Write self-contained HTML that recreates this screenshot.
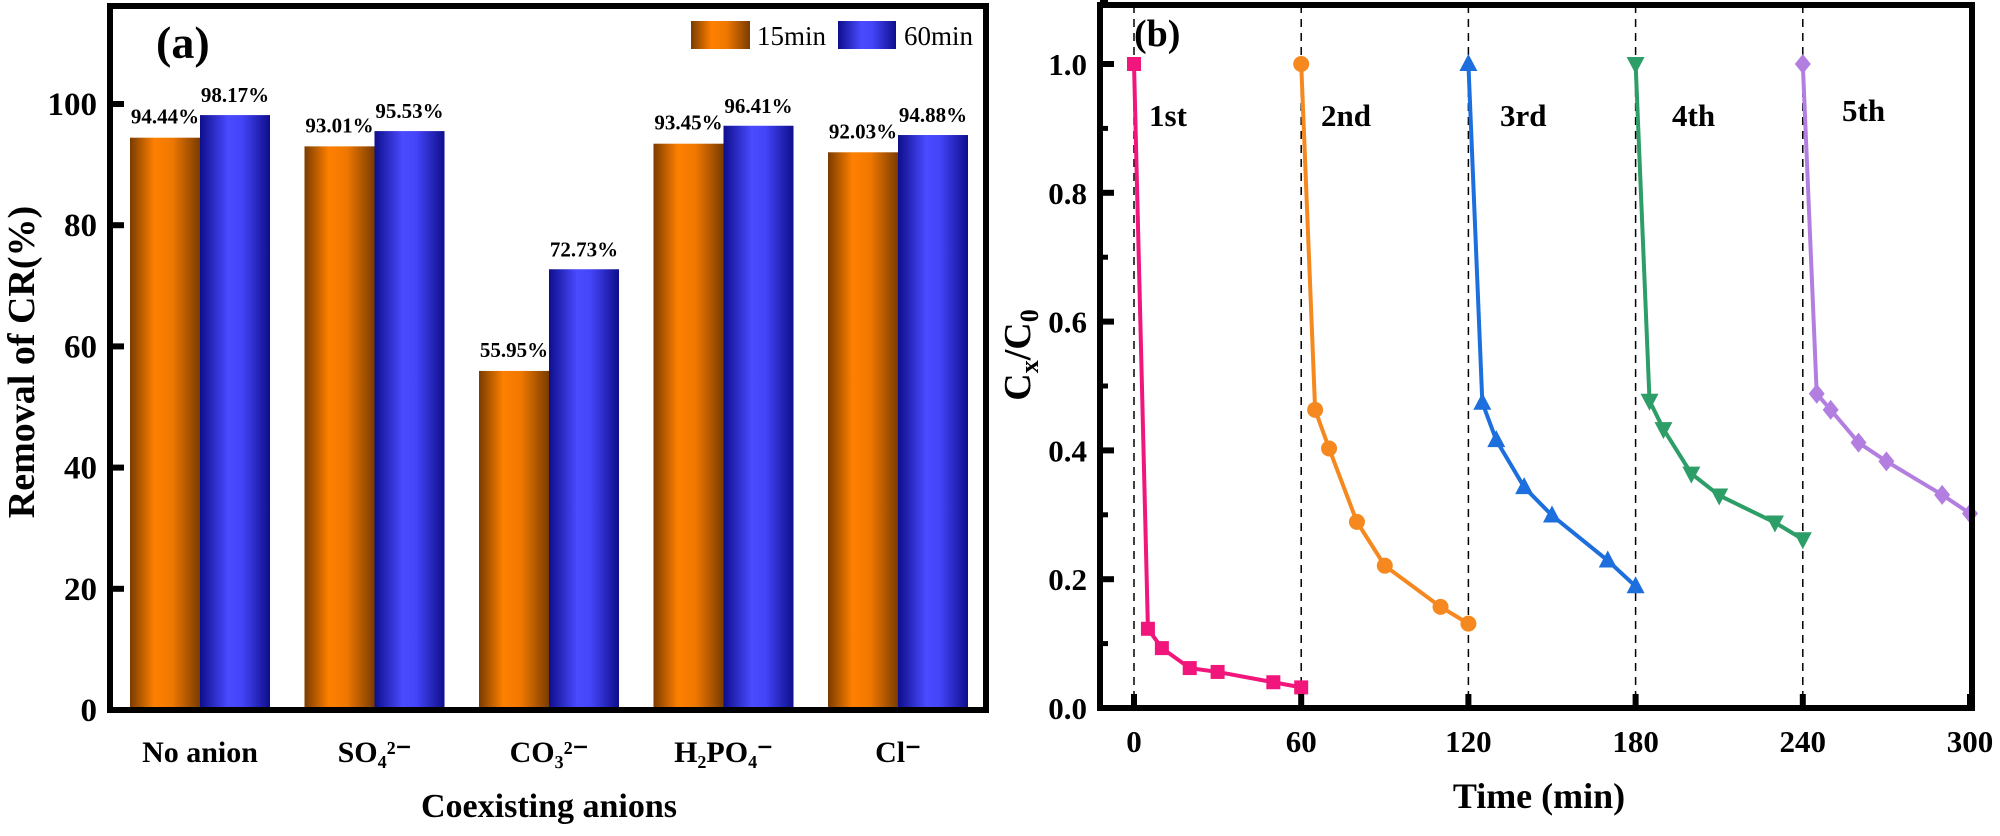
<!DOCTYPE html>
<html><head><meta charset="utf-8"><style>
html,body{margin:0;padding:0;background:#fff}
svg{display:block;font-family:"Liberation Serif",serif;font-weight:bold}
</style></head><body>
<svg id="fig" width="2000" height="836" viewBox="0 0 2000 836" xmlns="http://www.w3.org/2000/svg">
<defs>
<linearGradient id="gO" x1="0" x2="1" y1="0" y2="0"><stop offset="0" stop-color="#7a3c00"/><stop offset="0.35" stop-color="#ff8000"/><stop offset="0.6" stop-color="#f07800"/><stop offset="1" stop-color="#7a3c00"/></linearGradient>
<linearGradient id="gB" x1="0" x2="1" y1="0" y2="0"><stop offset="0" stop-color="#0e0e8c"/><stop offset="0.4" stop-color="#4a4aff"/><stop offset="0.6" stop-color="#4444f8"/><stop offset="1" stop-color="#0e0e8c"/></linearGradient>
</defs>
<g id="pa"></g>
<g id="pb"></g>
</svg>
<script>
const categories=["No anion","SO₄²⁻","CO₃²⁻","H₂PO₄⁻","Cl⁻"];
const val15=[94.44,93.01,55.95,93.45,92.03];
const val60=[98.17,95.53,72.73,96.41,94.88];
const yTicksA=[0,20,40,60,80,100];
const timesB=[[0,5,10,20,30,50,60],[60,65,70,80,90,110,120],[120,125,130,140,150,170,180],[180,185,190,200,210,230,240],[240,245,250,260,270,290,300]];
const valuesB=[[1.0,0.123,0.093,0.062,0.056,0.040,0.032],[1.0,0.463,0.403,0.289,0.221,0.157,0.131],[1.0,0.474,0.416,0.343,0.299,0.229,0.189],[1.0,0.477,0.433,0.364,0.330,0.288,0.262],[1.0,0.488,0.463,0.412,0.383,0.331,0.302]];
const cycleLabels=["1st","2nd","3rd","4th","5th"];
const xTicksB=[0,60,120,180,240,300];
const yTicksB=[0,0.2,0.4,0.6,0.8,1.0];

const NS="http://www.w3.org/2000/svg";
function mk(p,tag,at,txt){const e=document.createElementNS(NS,tag);for(const k in at)e.setAttribute(k,at[k]);if(txt!==undefined)e.textContent=txt;p.appendChild(e);return e;}

// ---- Panel A ----
const pa=document.getElementById('pa');
const aL=110,aR=986,aT=6,aB=710;
const yA=v=>710-v*6.06;
const xA=i=>200+i*174.5;
for(let i=0;i<categories.length;i++){
  const c=xA(i);
  let r=mk(pa,'rect',{x:c-70,y:yA(val15[i]),width:70,height:yA(0)-yA(val15[i]),fill:'url(#gO)'});
  
  
  r=mk(pa,'rect',{x:c,y:yA(val60[i]),width:70,height:yA(0)-yA(val60[i]),fill:'url(#gB)'});
  
  
  let t=mk(pa,'text',{x:c-35,y:yA(val15[i])-14,'text-anchor':'middle','font-size':21},val15[i].toFixed(2)+'%');
  
  
  t=mk(pa,'text',{x:c+35,y:yA(val60[i])-13,'text-anchor':'middle','font-size':21},val60[i].toFixed(2)+'%');
  
  
  t=mk(pa,'text',{x:c,y:762,'text-anchor':'middle','font-size':30},categories[i]);
  
  
}
let fa=mk(pa,'rect',{x:aL,y:aT,width:aR-aL,height:aB-aT,fill:'none',stroke:'#000','stroke-width':6});


for(const v of yTicksA){
  mk(pa,'line',{x1:aL,x2:aL+14,y1:yA(v),y2:yA(v),stroke:'#000','stroke-width':6});
  const t=mk(pa,'text',{x:97,y:yA(v)+11,'text-anchor':'end','font-size':33},String(v));
  
  
}
let tt=mk(pa,'text',{x:0,y:0,'text-anchor':'middle','font-size':38,transform:'translate(34,362) rotate(-90)'},'Removal of CR(%)');


tt=mk(pa,'text',{x:549,y:817,'text-anchor':'middle','font-size':34},'Coexisting anions');


tt=mk(pa,'text',{x:156,y:58,'font-size':46},'(a)');


let lg=mk(pa,'g',{});


mk(lg,'rect',{x:691,y:21,width:59,height:28,fill:'url(#gO)'});
mk(lg,'text',{x:757,y:45,'font-size':27,'font-weight':'normal'},'15min');
mk(lg,'rect',{x:838,y:21,width:58,height:28,fill:'url(#gB)'});
mk(lg,'text',{x:904,y:45,'font-size':27,'font-weight':'normal'},'60min');

// ---- Panel B ----
const pb=document.getElementById('pb');
const bL=1100,bR=1972,bT=5,bB=708;
const xB=t=>1134+t*(1970-1134)/300;
const yB=v=>708-v*644;
const colors=['#f0167c','#f5891f','#1c6fdc','#2e9e68','#b27fe0'];
for(const t of [0,60,120,180,240]){
  mk(pb,'line',{x1:xB(t),x2:xB(t),y1:bT,y2:bB,stroke:'#000','stroke-width':1.5,'stroke-dasharray':'8,6'});
}
for(let s=0;s<timesB.length;s++){
  const g=mk(pb,'g',{});
  
  
  const pts=timesB[s].map((t,i)=>xB(t)+','+yB(valuesB[s][i])).join(' ');
  mk(g,'polyline',{points:pts,fill:'none',stroke:colors[s],'stroke-width':4});
  for(let i=0;i<timesB[s].length;i++){
    const x=xB(timesB[s][i]),y=yB(valuesB[s][i]);let m;
    if(s===0)m=mk(g,'rect',{x:x-7,y:y-7,width:14,height:14,fill:colors[s]});
    else if(s===1)m=mk(g,'circle',{cx:x,cy:y,r:8,fill:colors[s]});
    else if(s===2)m=mk(g,'polygon',{points:`${x},${y-10} ${x-9},${y+7} ${x+9},${y+7}`,fill:colors[s]});
    else if(s===3)m=mk(g,'polygon',{points:`${x},${y+10} ${x-9},${y-7} ${x+9},${y-7}`,fill:colors[s]});
    else m=mk(g,'polygon',{points:`${x},${y-10} ${x+8},${y} ${x},${y+10} ${x-8},${y}`,fill:colors[s]});
    
    
  }
}
const lblX=[1149,1321,1500,1672,1842];
for(let s=0;s<cycleLabels.length;s++){
  const t=mk(pb,'text',{x:lblX[s],y:s===4?121:126,'font-size':31},cycleLabels[s]);
  
  
}
let fb=mk(pb,'rect',{x:bL,y:bT,width:bR-bL,height:bB-bT,fill:'none',stroke:'#000','stroke-width':6});


for(const v of yTicksB){
  mk(pb,'line',{x1:bL,x2:bL+14,y1:yB(v),y2:yB(v),stroke:'#000','stroke-width':6});
  mk(pb,'line',{x1:bL,x2:bL+8,y1:yB(v+0.1),y2:yB(v+0.1),stroke:'#000','stroke-width':5});
  const t=mk(pb,'text',{x:1087,y:yB(v)+11,'text-anchor':'end','font-size':31},v.toFixed(1));
  
  
}
for(const v of xTicksB){
  mk(pb,'line',{x1:xB(v),x2:xB(v),y1:bB,y2:bB-14,stroke:'#000','stroke-width':6});
  const t=mk(pb,'text',{x:xB(v),y:752,'text-anchor':'middle','font-size':31},String(v));
  
  
}
tt=mk(pb,'text',{x:1539,y:808,'text-anchor':'middle','font-size':36},'Time (min)');


tt=mk(pb,'text',{x:0,y:0,'text-anchor':'middle','font-size':38,transform:'translate(1030,355) rotate(-90)'});


mk(tt,'tspan',{},'C');mk(tt,'tspan',{dy:8,'font-size':26},'x');mk(tt,'tspan',{dy:-8},'/C');mk(tt,'tspan',{dy:8,'font-size':26},'0');
tt=mk(pb,'text',{x:1134,y:46,'font-size':38},'(b)');


</script>
</body></html>
